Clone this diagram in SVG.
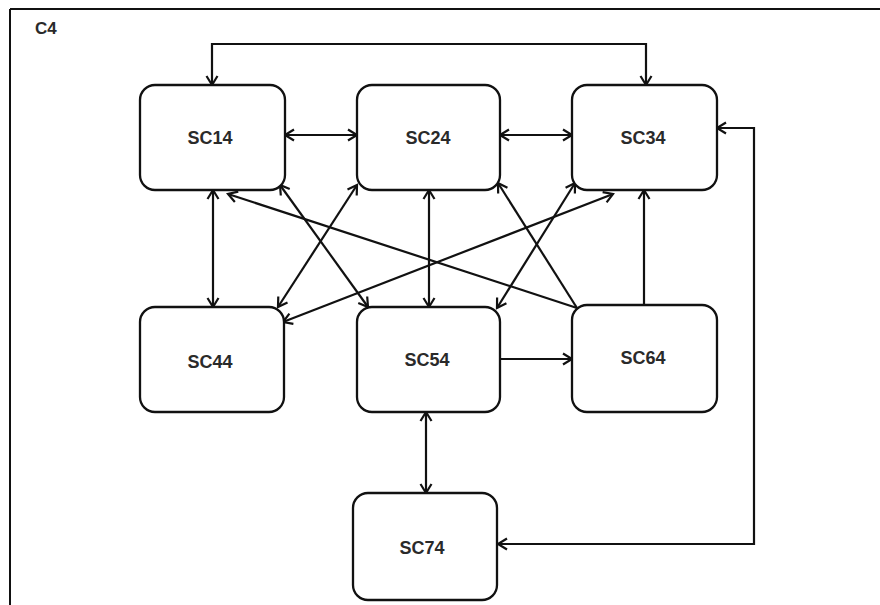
<svg xmlns="http://www.w3.org/2000/svg" width="880" height="605" viewBox="0 0 880 605">
<style>
.box{fill:#fff;stroke:#111;stroke-width:2.3}
.lbl{font-family:"Liberation Sans",Arial,sans-serif;font-weight:bold;font-size:18px;fill:#2a2a2a;text-anchor:middle}
.ttl{font-family:"Liberation Sans",Arial,sans-serif;font-weight:bold;font-size:17px;fill:#2a2a2a}
.c{fill:none;stroke:#111;stroke-width:2.2}
.b{marker-start:url(#ah);marker-end:url(#ah)}
.e{marker-end:url(#ah)}
</style>
<defs>
<marker id="ah" markerUnits="userSpaceOnUse" markerWidth="14" markerHeight="14" refX="11" refY="7" orient="auto-start-reverse" viewBox="0 0 14 14">
<path d="M2,1.5 L11,7 L2,12.5" fill="none" stroke="#111" stroke-width="2.2" stroke-linejoin="miter"/>
</marker>
</defs>
<rect width="880" height="605" fill="#fff"/>
<g id="frame">
<path d="M10,9 H880 M10,9 V605" fill="none" stroke="#111" stroke-width="2"/>
<text class="ttl" x="35" y="34">C4</text>
</g>
<g id="connectors">
<path class="c b" d="M212,85 V44 H646 V85"/>
<path class="c b" d="M285,135 H357"/>
<path class="c b" d="M500,135 H572"/>
<path class="c b" d="M717,128 H754 V544 H498"/>
<path class="c b" d="M213,190 V307"/>
<path class="c b" d="M429,190 V307"/>
<path class="c e" d="M644,305 V190"/>
<path class="c e" d="M500,359 H572"/>
<path class="c b" d="M426,412 V493"/>
<path class="c b" d="M280,185 L368,307"/>
<path class="c b" d="M357,185 L278,307"/>
<path class="c e" d="M577,308 L228,194"/>
<path class="c e" d="M577,308 L498,183"/>
<path class="c b" d="M613,194 L283,322"/>
<path class="c b" d="M575,183 L497,308"/>
</g>
<g id="SC14"><rect class="box" x="140" y="85" width="145" height="105" rx="15"/><text class="lbl" x="210" y="144">SC14</text></g>
<g id="SC24"><rect class="box" x="357" y="85" width="143" height="105" rx="15"/><text class="lbl" x="428" y="144">SC24</text></g>
<g id="SC34"><rect class="box" x="572" y="85" width="145" height="105" rx="15"/><text class="lbl" x="643" y="144">SC34</text></g>
<g id="SC44"><rect class="box" x="140" y="307" width="144" height="105" rx="15"/><text class="lbl" x="210" y="368">SC44</text></g>
<g id="SC54"><rect class="box" x="357" y="307" width="143" height="105" rx="15"/><text class="lbl" x="427" y="366">SC54</text></g>
<g id="SC64"><rect class="box" x="572" y="305" width="145" height="107" rx="15"/><text class="lbl" x="643" y="364">SC64</text></g>
<g id="SC74"><rect class="box" x="353" y="493" width="144" height="107" rx="15"/><text class="lbl" x="422" y="554">SC74</text></g>
</svg>
